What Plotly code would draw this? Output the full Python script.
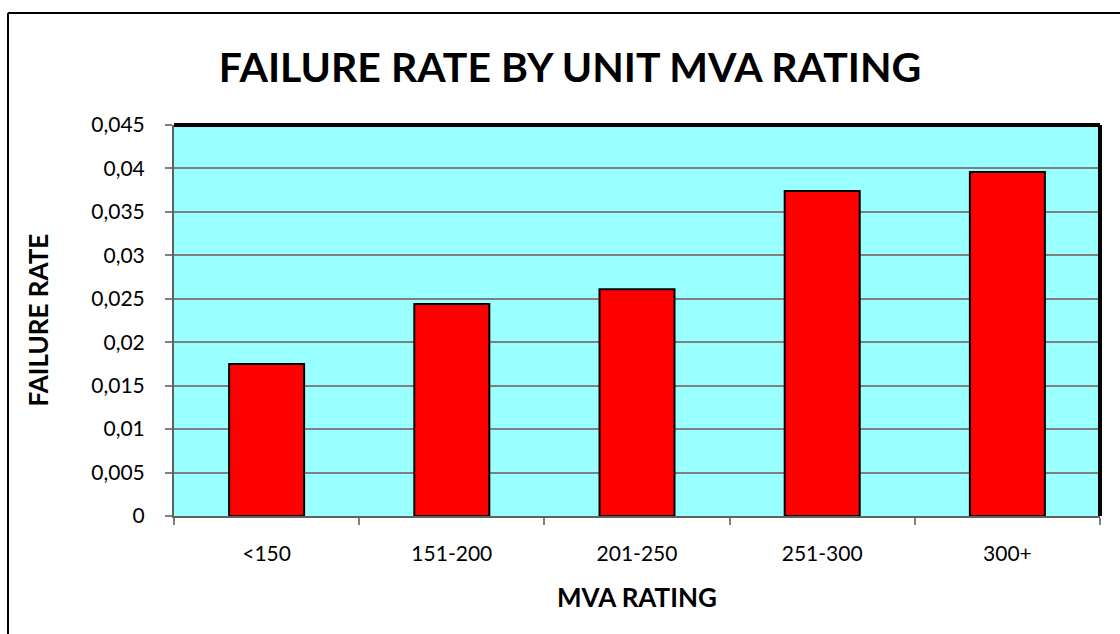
import plotly.graph_objects as go

# failure rate per unit MVA rating class
categories = ["<150", "151-200", "201-250", "251-300", "300+"]
failure_rate = [0.0175, 0.0244, 0.0261, 0.0374, 0.0396]
y_ticks = [0, 0.005, 0.01, 0.015, 0.02, 0.025, 0.03, 0.035, 0.04, 0.045]

FONT = "Lato, Calibri, Carlito, sans-serif"

fig = go.Figure()
fig.add_trace(go.Bar(
    x=categories, y=failure_rate,
    marker=dict(color="#FF0000", line=dict(color="black", width=2)),
    showlegend=False,
))

fig.update_layout(
    width=1120, height=634,
    margin=dict(l=174, r=20, t=125, b=118),
    paper_bgcolor="white",
    plot_bgcolor="#99FFFF",
    separators=",.",
    bargap=0.595,
    font=dict(family=FONT, size=21, color="black"),
    title=dict(
        text="<b>FAILURE RATE BY UNIT MVA RATING</b>",
        x=570 / 1120, xanchor="center", xref="container",
        y=1 - 68 / 634, yanchor="middle", yref="container",
        font=dict(family=FONT, size=41, color="black"),
    ),
)

fig.update_xaxes(
    showgrid=False, showline=True, linecolor="#606060", linewidth=2,
    ticks="outside", tickson="boundaries", ticklen=7, tickcolor="#808080",
    tickwidth=2, ticklabelstandoff=18,
)
fig.update_yaxes(
    range=[0, 0.045], tickvals=y_ticks,
    showgrid=True, gridcolor="#808080", gridwidth=2, zeroline=False,
    showline=True, linecolor="#606060", linewidth=2,
    ticks="outside", ticklen=7, tickcolor="#808080", tickwidth=2,
    ticklabelstandoff=16,
)

# axis titles
fig.add_annotation(text="<b>MVA RATING</b>", xref="paper", yref="paper",
                   x=0.5, y=-(597 - 516) / 391, yanchor="middle", showarrow=False,
                   font=dict(family=FONT, size=26))
fig.add_annotation(text="<b>FAILURE RATE</b>", xref="paper", yref="paper",
                   x=(37 - 174) / 926, xanchor="center", y=0.5, textangle=-90,
                   showarrow=False, font=dict(family=FONT, size=26))

# heavy black top/right frame of the plot area
fig.add_shape(type="line", xref="paper", yref="paper", x0=0, x1=1, y0=1, y1=1,
              line=dict(color="black", width=4))
fig.add_shape(type="line", xref="paper", yref="paper", x0=1, x1=1, y0=0, y1=1,
              line=dict(color="black", width=4))

# outer chart border (left and top edges visible)
ox = (8 - 174) / 926
oy = (516 - 13) / 391
fig.add_shape(type="line", xref="paper", yref="paper", x0=ox, x1=2, y0=oy, y1=oy,
              line=dict(color="black", width=2))
fig.add_shape(type="line", xref="paper", yref="paper", x0=ox, x1=ox, y0=oy, y1=-2,
              line=dict(color="black", width=2))

fig.write_html("out.html", config={"displayModeBar": False},
               post_script="document.body.style.margin='0';")
